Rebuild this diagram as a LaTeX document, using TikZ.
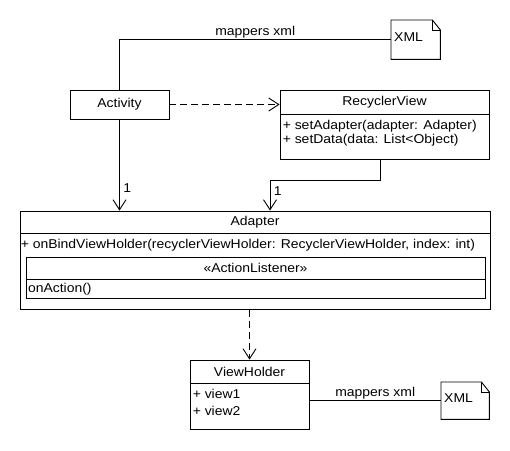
\documentclass[tikz,border=0pt]{standalone}
\usepackage{fontspec}
\setmainfont{Liberation Sans}[FakeStretch=1.09]
\usetikzlibrary{arrows.meta,positioning}

\tikzset{
  umlbox/.style={draw, rectangle, line width=0.9pt, inner sep=0pt},
  members/.style={align=left, inner xsep=3pt, inner ysep=6pt},
  note/.style={anchor=north west, inner xsep=3pt, inner ysep=0pt, text depth=5pt, align=left},
  assoc/.style={line width=0.9pt, -{Straight Barb[length=10pt,width=13pt]}},
  depend/.style={assoc, dash pattern=on 7pt off 4pt},
  link/.style={line width=0.9pt}
}

% outline of a note with a folded corner
\newcommand{\dogear}[1]{
  \draw[link] (#1.north west) -- ([xshift=-8pt]#1.north east)
    -- ([yshift=-10pt]#1.north east) -- (#1.south east)
    -- (#1.south west) -- cycle;
  \draw[link] ([xshift=-8pt]#1.north east) |- ([yshift=-10pt]#1.north east);
}

\begin{document}
\begin{tikzpicture}[x=1pt, y=-1pt, font=\fontsize{12.8}{14}\selectfont]
    \useasboundingbox (0,0) rectangle (510,450);

    % classes
    \node[umlbox, minimum width=99pt, minimum height=29pt] (activity) at (119.5,104.5) {Activity};

    \node[umlbox, minimum width=209pt, minimum height=24pt] (recyclerview) at (384.5,102) {RecyclerView};
    \node[umlbox, anchor=north, minimum width=209pt, minimum height=45pt] (recyclerbody) at (recyclerview.south) {};
    \node[members, anchor=north west] (recyclerops) at (recyclerbody.north west)
        {+ setAdapter(adapter: Adapter)\\+ setData(data: List<Object)};

    \node[umlbox, minimum width=470pt, minimum height=22pt] (adapter) at (255,222) {Adapter};
    \node[umlbox, anchor=north, minimum width=470pt, minimum height=76pt] (adapterbody) at (adapter.south) {};
    \node[members, anchor=north west, inner xsep=1pt] (adapterops) at (adapterbody.north west)
        {+ onBindViewHolder(recyclerViewHolder: RecyclerViewHolder, index: int)};
    \node[umlbox, minimum width=459pt, minimum height=22pt] (listener) at (255.5,268) {«ActionListener»};
    \node[umlbox, anchor=north, minimum width=459pt, minimum height=19pt,
          inner xsep=2pt, text width=455pt, align=left] (listenerops) at (listener.south) {onAction()};

    \node[umlbox, minimum width=119pt, minimum height=23pt] (viewholder) at (249.5,371.5) {ViewHolder};
    \node[umlbox, anchor=north, minimum width=119pt, minimum height=46pt] (viewholderbody) at (viewholder.south) {};
    \node[members, anchor=north west, font=\fontsize{12.8}{17}\selectfont] (viewholderfields) at (viewholderbody.north west)
        {+ view1\\+ view2};

    % notes
    \node[note, text width=43pt, minimum height=39pt] (xmltop) at (391,20) {XML};
    \dogear{xmltop}
    \node[note, text width=42pt, minimum height=37pt] (xmlbottom) at (441,382) {XML};
    \dogear{xmlbottom}

    % connectors
    \draw[link] (activity.north) |- (xmltop.west) node[pos=0.75, above, inner sep=1.5pt] {mappers xml};
    \draw[depend] (activity.east) -- (activity.east -| recyclerview.west);
    \draw[assoc] (activity.south) -- (activity.south |- adapter.north) node[near end, right] {1};
    \coordinate (bend) at (270,180);
    \draw[link] ([xshift=-4pt]recyclerbody.south) |- (bend);
    \draw[assoc] (bend) -- (bend |- adapter.north) node[pos=0.35, right] {1};
    \draw[depend] (adapterbody.south -| viewholder.north) -- (viewholder.north);
    \draw[link] (viewholderbody.east |- xmlbottom.west) -- (xmlbottom.west) node[midway, above, inner sep=1.5pt] {mappers xml};
\end{tikzpicture}
\end{document}
